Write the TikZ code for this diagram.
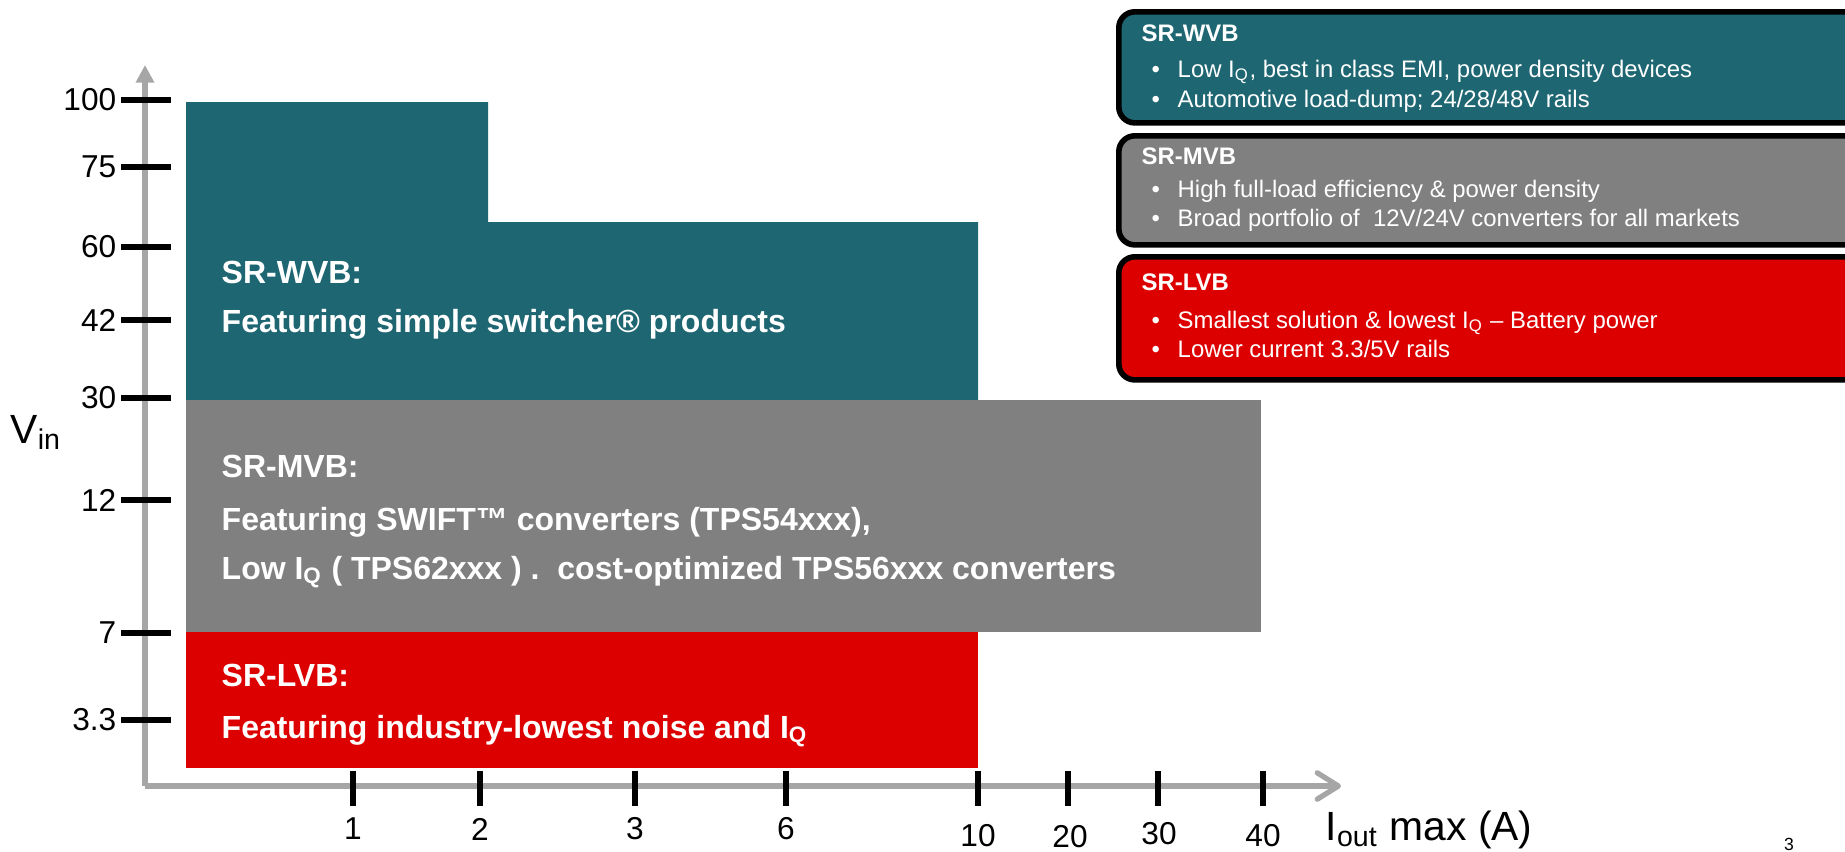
\documentclass[tikz,border=0pt]{standalone}
\usepackage{fontspec}
\setmainfont{Liberation Sans}
\usetikzlibrary{arrows.meta,positioning}
\definecolor{wvbteal}{RGB}{29,102,114}
\definecolor{mvbgray}{RGB}{128,128,128}
\definecolor{lvbred}{RGB}{221,0,0}
\definecolor{axisgray}{RGB}{166,166,166}
\newcommand{\keybullet}{\makebox[2.6mm][l]{•}}

\begin{document}
\begin{tikzpicture}[x=0.01cm,y=-0.01cm,
  axis/.style={draw=axisgray,line width=1.5pt},
  tick/.style={line width=1.6pt},
  ylab/.style={font=\fontsize{9}{10}\selectfont,inner sep=0pt,anchor=east},
  xlab/.style={font=\fontsize{9}{10}\selectfont,inner sep=0pt},
  axtitle/.style={font=\fontsize{11.6}{14}\selectfont,inner sep=0pt,anchor=base west},
  bandtxt/.style={font=\fontsize{9.1}{11}\selectfont\bfseries,text=white,anchor=base west,inner sep=0pt},
  keybox/.style={draw=black,line width=1.6pt,rounded corners=1.6mm,minimum width=80mm,anchor=north west,inner sep=0pt},
  keytitle/.style={font=\fontsize{6.8}{8}\selectfont\bfseries,text=white,anchor=base west,inner sep=0pt},
  keyitem/.style={font=\fontsize{6.8}{8}\selectfont,text=white,anchor=base west,inner sep=0pt}]
  \clip (0,0) rectangle (1845,851);

  % voltage bands
  \fill[wvbteal] (186,102) -- (488,102) -- (488,222) -- (978,222) -- (978,400) -- (186,400) -- cycle;
  \fill[mvbgray] (186,400) rectangle (1261,632);
  \fill[lvbred] (186,632) rectangle (978,768);
  \node[bandtxt] (wvbname) at (221,283) {SR-WVB:};
  \node[bandtxt] (wvbnote) at (221,332) {Featuring simple switcher® products};
  \node[bandtxt] (mvbname) at (221,477) {SR-MVB:};
  \node[bandtxt] (mvbnote) at (221,530) {Featuring SWIFT™ converters (TPS54xxx),};
  \node[bandtxt] (mvbnotetwo) at (221,579) {Low I\textsubscript{Q} ( TPS62xxx ) .\ \ cost-optimized TPS56xxx converters};
  \node[bandtxt] (lvbname) at (221,686) {SR-LVB:};
  \node[bandtxt] (lvbnote) at (221,738) {Featuring industry-lowest noise and I\textsubscript{Q}};

  % axes
  \coordinate (origin) at (145,786);
  \coordinate (ytip) at (145,65);
  \coordinate (xtip) at (1341,786);
  \draw[axis,-{Triangle[length=5pt,width=5pt]}] (origin) -- (ytip);
  \draw[axis,-{Straight Barb[length=6pt,width=7.5pt,round]}] (origin) -- (xtip);
  \node[axtitle] (vin) at (10,443) {V\textsubscript{in}};
  \node[axtitle] (iout) at (1325,840) {I\textsubscript{out} max (A)};

  % Vin ticks
  \draw[tick] (121,100) -- (171,100); \node[ylab] (v100) at (117,100) {100};
  \draw[tick] (121,167) -- (171,167); \node[ylab] (v75) at (117,167) {75};
  \draw[tick] (121,247) -- (171,247); \node[ylab] (v60) at (117,247) {60};
  \draw[tick] (121,320) -- (171,320); \node[ylab] (v42) at (117,320) {42};
  \draw[tick] (121,398) -- (171,398); \node[ylab] (v30) at (117,398) {30};
  \draw[tick] (121,500) -- (171,500); \node[ylab] (v12) at (117,500) {12};
  \draw[tick] (121,633) -- (171,633); \node[ylab] (v7) at (117,633) {7};
  \draw[tick] (121,720) -- (171,720); \node[ylab] (v3) at (117,720) {3.3};

  % Iout ticks
  \draw[tick] (353,771) -- (353,806); \node[xlab] (i1) at (353,829) {1};
  \draw[tick] (480,771) -- (480,806); \node[xlab] (i2) at (480,829) {2};
  \draw[tick] (635,771) -- (635,806); \node[xlab] (i3) at (635,829) {3};
  \draw[tick] (786,771) -- (786,806); \node[xlab] (i6) at (786,829) {6};
  \draw[tick] (978,771) -- (978,806); \node[xlab] (i10) at (978,836) {10};
  \draw[tick] (1068,771) -- (1068,806); \node[xlab] (i20) at (1070,837) {20};
  \draw[tick] (1158,771) -- (1158,806); \node[xlab] (i30) at (1159,834) {30};
  \draw[tick] (1263,771) -- (1263,806); \node[xlab] (i40) at (1263,836) {40};

  % key
  \node[keybox,fill=wvbteal,minimum height=11.1mm] (wvbkey) at (1116,9) {};
  \node[keytitle] (wvbhead) at (1141,41) {SR-WVB};
  \node[keyitem] (wvbone) at (1151,77) {\keybullet Low I\textsubscript{Q}, best in class EMI, power density devices};
  \node[keyitem] (wvbtwo) at (1151,107) {\keybullet Automotive load-dump; 24/28/48V rails};
  \node[keybox,fill=mvbgray,minimum height=10.9mm] (mvbkey) at (1116,133) {};
  \node[keytitle] (mvbhead) at (1141,164) {SR-MVB};
  \node[keyitem] (mvbone) at (1151,197) {\keybullet High full-load efficiency \& power density};
  \node[keyitem] (mvbtwo) at (1151,226) {\keybullet Broad portfolio of\ \ 12V/24V converters for all markets};
  \node[keybox,fill=lvbred,minimum height=12.3mm] (lvbkey) at (1116,254) {};
  \node[keytitle] (lvbhead) at (1141,290) {SR-LVB};
  \node[keyitem] (lvbone) at (1151,328) {\keybullet Smallest solution \& lowest I\textsubscript{Q} – Battery power};
  \node[keyitem] (lvbtwo) at (1151,357) {\keybullet Lower current 3.3/5V rails};

  \node[font=\fontsize{5}{6}\selectfont,inner sep=0pt] (pgno) at (1789,844) {3};
\end{tikzpicture}
\end{document}
